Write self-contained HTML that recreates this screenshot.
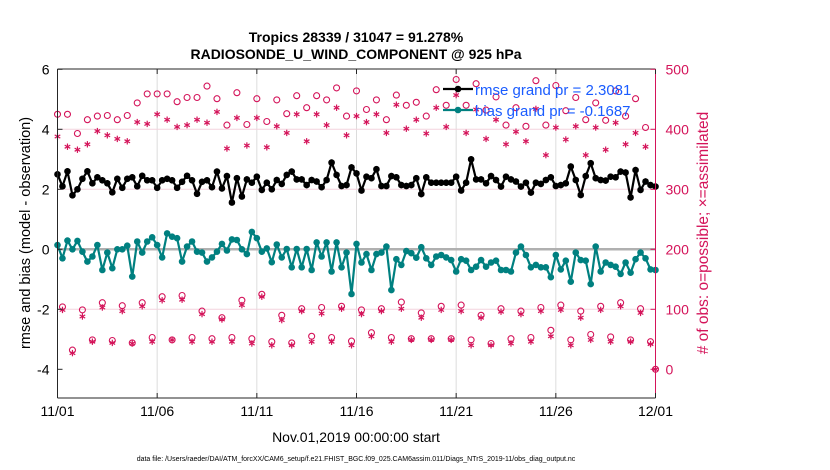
<!DOCTYPE html>
<html><head><meta charset="utf-8"><style>
body{margin:0;background:#fff;}
svg{display:block;font-family:"Liberation Sans",sans-serif;}
</style></head><body>
<svg id="chart" width="830" height="470">
<text x="356" y="42" text-anchor="middle" font-size="14" font-weight="bold">Tropics 28339 / 31047 = 91.278%</text>
<text x="356" y="59" text-anchor="middle" font-size="14" font-weight="bold">RADIOSONDE_U_WIND_COMPONENT @ 925 hPa</text>
<g id="grid"></g>
<g id="marks"></g>
<g id="axes"></g>
<text transform="translate(30,233) rotate(-90)" text-anchor="middle" font-size="14.5">rmse and bias (model - observation)</text>
<text transform="translate(708,233) rotate(-90)" text-anchor="middle" font-size="15.5" fill="#d4145a"># of obs: o=possible; ×=assimilated</text>
<text x="356" y="442" text-anchor="middle" font-size="14">Nov.01,2019 00:00:00 start</text>
<text x="356" y="461" text-anchor="middle" font-size="7">data file: /Users/raeder/DAI/ATM_forcXX/CAM6_setup/f.e21.FHIST_BGC.f09_025.CAM6assim.011/Diags_NTrS_2019-11/obs_diag_output.nc</text>
<g id="legend"></g>
</svg>
<script>
const xTickLabels=["11/01","11/06","11/11","11/16","11/21","11/26","12/01"];
const xTickDays=[0,5,10,15,20,25,30];
const yTicksLeft=[-4,-2,0,2,4,6];
const yTicksRight=[0,100,200,300,400,500];
const rmse=[2.5,2.1,2.6,1.8,2.0,2.35,2.6,2.2,2.4,2.3,2.2,1.9,2.35,2.05,2.35,2.4,2.1,2.45,2.3,2.3,2.05,2.3,2.35,2.3,2.05,2.25,2.45,2.3,1.85,2.25,2.3,
2.07,2.59,2.03,2.44,1.56,2.37,1.76,2.33,2.22,2.42,1.98,2.22,2.0,2.31,2.18,2.48,2.59,2.33,2.33,2.14,2.31,2.26,2.07,2.31,2.89,2.48,2.11,2.14,2.73,2.53,
1.96,2.42,2.37,2.67,2.11,2.11,2.44,2.4,2.14,2.11,2.14,2.37,1.84,2.4,2.22,2.22,2.22,2.22,2.22,2.42,1.96,2.22,3.0,2.33,2.33,2.2,2.44,2.31,2.09,2.42,
2.33,2.26,2.09,2.22,1.89,2.22,2.18,2.31,2.4,2.11,2.14,2.2,2.76,2.31,1.81,2.44,2.87,2.37,2.31,2.29,2.42,2.4,2.59,2.56,1.73,2.64,1.98,2.26,2.14,2.09];
const bias=[0.14,-0.3,0.29,0,0.28,-0.08,-0.41,-0.24,0.14,-0.69,-0.11,-0.63,0,0,0.12,-0.91,0.26,-0.11,0.26,0.4,0.14,-0.27,0.53,0.42,0.37,-0.41,0.09,0.26,-0.08,-0.11,-0.41,
-0.27,-0.08,0.18,-0.04,0.33,0.31,0,-0.16,0.58,0.37,-0.08,0.03,-0.43,0.16,-0.27,0.01,-0.6,0.01,-0.6,0.01,-0.69,0.23,-0.24,0.23,-0.74,0.23,-0.6,-0.11,-1.49,0.18,
-0.44,-0.16,-0.69,-0.16,-0.11,0.09,-1.36,-0.33,-0.52,-0.06,-0.13,-0.28,0.07,-0.3,-0.52,-0.24,-0.19,-0.27,-0.36,-0.74,-0.33,-0.38,-0.69,-0.58,-0.36,-0.58,-0.44,-0.38,-0.69,-0.69,
-0.74,-0.11,0.09,-0.19,-0.6,-0.52,-0.6,-0.6,-0.93,-0.19,-0.67,-0.38,-1.08,-0.11,-0.36,-0.38,-1.16,0.09,-0.74,-0.44,-0.52,-0.58,-0.82,-0.44,-0.78,-0.33,-0.11,-0.3,-0.67,-0.69];
const possible=[425,104,425,32,393,99,416,49,422,111,423,48,416,106,423,44,444,111,459,53,459,121,459,49,446,123,453,53,453,97,472,
51,451,86,407,53,461,115,408,51,451,125,413,46,449,90,426,44,456,101,436,55,456,103,449,53,469,105,422,47,464,
99,433,61,449,101,416,53,457,112,440,51,445,94,422,51,466,105,440,51,483,107,440,49,476,90,432,43,454,101,407,
51,436,97,405,53,481,103,407,65,473,107,431,49,453,97,416,58,444,105,415,54,464,111,422,49,451,101,403,46,0];
const assimilated=[388,99,371,27,366,88,375,46,397,103,390,44,384,97,380,43,412,105,409,46,425,115,416,49,404,116,407,46,416,92,411,
46,429,83,368,46,419,107,373,43,419,121,370,40,405,82,394,40,425,97,380,46,425,93,407,46,436,101,390,40,422,
92,412,55,425,97,394,46,441,101,401,49,416,86,393,49,436,99,404,49,457,97,394,40,433,86,384,40,416,96,375,
43,396,92,380,46,434,97,357,55,403,99,383,40,405,86,357,49,403,99,366,46,411,105,375,46,394,94,371,42,0];

const NS="http://www.w3.org/2000/svg";
const L=57.5,R=655.5,T=69,B=398;
const xS=d=>L+(R-L)*d/30;
const yL=v=>249.3-v*30;
const yR=c=>369.3-c*0.6;
const MAG="#d4145a";
function mk(tag,attrs,parent){const e=document.createElementNS(NS,tag);for(const k in attrs)e.setAttribute(k,attrs[k]);parent.appendChild(e);return e;}
const grid=document.getElementById('grid'),marks=document.getElementById('marks'),axes=document.getElementById('axes'),leg=document.getElementById('legend');

xTickDays.slice(1,-1).forEach(d=>{const g=mk('line',{x1:xS(d),x2:xS(d),y1:T,y2:B,stroke:'#dcdcdc','stroke-width':1},grid);

});
yTicksRight.slice(1,-1).forEach(c=>{const g=mk('line',{x1:L,x2:R,y1:yR(c),y2:yR(c),stroke:'#f3d3dd','stroke-width':1},grid);

});
const z=mk('line',{x1:L,x2:R,y1:yL(0),y2:yL(0),stroke:'#b0b0b0','stroke-width':2.5},grid);



const N=rmse.length;
const tx=i=>xS(i*0.25);
function star(x,y,p,col){const s=3.2;
[[0,-s,0,s],[-s*0.87,-s*0.5,s*0.87,s*0.5],[-s*0.87,s*0.5,s*0.87,-s*0.5]].forEach(a=>mk('line',{x1:x+a[0],y1:y+a[1],x2:x+a[2],y2:y+a[3],stroke:col,'stroke-width':1.2},p));}
possible.forEach((c,i)=>{const e=mk('circle',{cx:tx(i),cy:yR(c),r:3,fill:'none',stroke:MAG,'stroke-width':1.1},marks);

});
assimilated.forEach((c,i)=>{const g=mk('g',{},marks);


star(tx(i),yR(c),g,MAG);});
function series(vals,col,name){
const pts=vals.map((v,i)=>tx(i)+','+yL(v)).join(' ');
const pl=mk('polyline',{points:pts,fill:'none',stroke:col,'stroke-width':2.2,'stroke-linejoin':'round'},marks);


vals.forEach((v,i)=>{const c=mk('circle',{cx:tx(i),cy:yL(v),r:3.3,fill:col},marks);


if(name==='rmse')star(tx(i),yL(v),marks,col);});
}
series(rmse,'#000','rmse');
series(bias,'#008080','bias');

mk('line',{x1:L,x2:R,y1:T,y2:T,stroke:'#262626','stroke-width':1},axes);
mk('line',{x1:L,x2:R,y1:B,y2:B,stroke:'#262626','stroke-width':1},axes);
mk('line',{x1:L,x2:L,y1:T,y2:B,stroke:'#262626','stroke-width':1},axes);
mk('line',{x1:R,x2:R,y1:T,y2:B,stroke:MAG,'stroke-width':1},axes);
xTickDays.forEach((d,i)=>{mk('line',{x1:xS(d),x2:xS(d),y1:B,y2:B-5,stroke:'#262626'},axes);mk('line',{x1:xS(d),x2:xS(d),y1:T,y2:T+5,stroke:'#262626'},axes);
const t=mk('text',{x:xS(d),y:B+18,'text-anchor':'middle','font-size':14},axes);t.textContent=xTickLabels[i];

});
yTicksLeft.forEach(v=>{mk('line',{x1:L,x2:L+5,y1:yL(v),y2:yL(v),stroke:'#262626'},axes);
const t=mk('text',{x:L-8,y:yL(v)+5,'text-anchor':'end','font-size':14},axes);t.textContent=v;

});
yTicksRight.forEach(c=>{mk('line',{x1:R,x2:R-5,y1:yR(c),y2:yR(c),stroke:MAG},axes);
const t=mk('text',{x:R+10,y:yR(c)+5,'font-size':14,fill:MAG},axes);t.textContent=c;

});

[['rmse grand pr = 2.3081','#000',89],['bias grand pr = -0.1687','#008080',110]].forEach(e=>{
const g=mk('g',{},leg);


mk('line',{x1:443,x2:473,y1:e[2],y2:e[2],stroke:e[1],'stroke-width':2.2},g);
mk('circle',{cx:458,cy:e[2],r:3.3,fill:e[1]},g);
const t=mk('text',{x:475,y:e[2]+6,'font-size':15,fill:'#1a5cff'},g);t.textContent=e[0];});
</script>
</body></html>
